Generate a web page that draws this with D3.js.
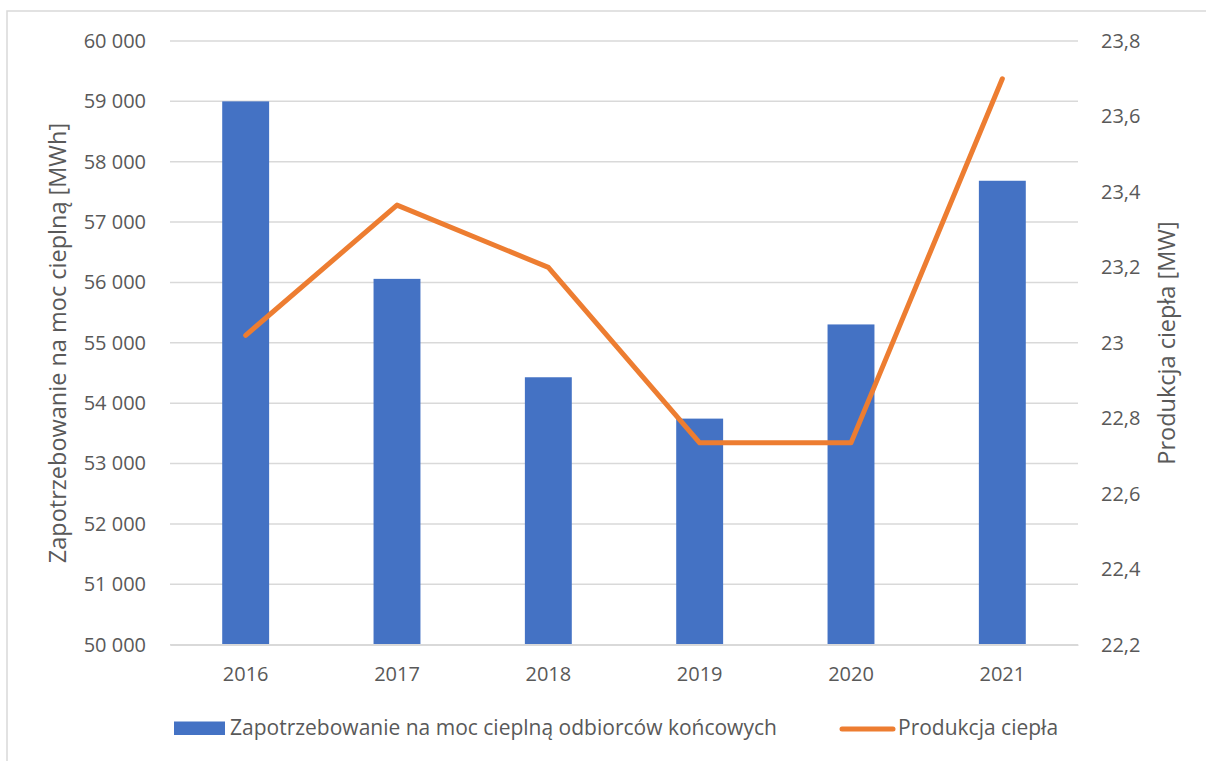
<!DOCTYPE html>
<html>
<head>
<meta charset="utf-8">
<script src="https://cdn.jsdelivr.net/npm/d3@7"></script>
<style>
  html, body { margin: 0; padding: 0; background: #fff; }
  svg { display: block; }
  text { font-family: "Open Sans", sans-serif; fill: #595959; }
</style>
</head>
<body>
<svg id="chart" width="1206" height="761"></svg>
<script>
// ---- data ----
const years = ["2016", "2017", "2018", "2019", "2020", "2021"];
const demandMWh = [59000, 56060, 54430, 53745, 55305, 57685];
const productionMW = [23.02, 23.365, 23.2, 22.735, 22.735, 23.70];
const leftTicks = [50000, 51000, 52000, 53000, 54000, 55000, 56000, 57000, 58000, 59000, 60000];
const rightTicks = [22.2, 22.4, 22.6, 22.8, 23.0, 23.2, 23.4, 23.6, 23.8];
const leftTitle = "Zapotrzebowanie na moc cieplną [MWh]";
const rightTitle = "Produkcja ciepła [MW]";
const legendBar = "Zapotrzebowanie na moc cieplną odbiorców końcowych";
const legendLine = "Produkcja ciepła";

// ---- layout ----
const svg = d3.select("#chart");
const plot = { left: 170, right: 1078, top: 41, bottom: 644.7 };
const barColor = "#4472C4", lineColor = "#ED7D31", gridColor = "#D9D9D9";
const fontSize = 20;

// chart border
svg.append("rect")
  .attr("x", 7).attr("y", 11).attr("width", 1220).attr("height", 770)
  .attr("fill", "#fff").attr("stroke", "#D9D9D9").attr("stroke-width", 1.5);

const x = d3.scaleBand().domain(years).range([plot.left, plot.right]).paddingInner(0.69).paddingOuter(0.345);
const xc = d3.scaleBand().domain(years).range([plot.left, plot.right]);
const yL = d3.scaleLinear().domain([50000, 60000]).range([plot.bottom, plot.top]);
const yR = d3.scaleLinear().domain([22.2, 23.8]).range([plot.bottom, plot.top]);

const fmtL = v => d3.format(",")(v).replace(/,/g, "\u00a0");
const fmtR = v => { const s = d3.format(".1f")(v); return (s.endsWith(".0") ? s.slice(0, -2) : s).replace(".", ","); };

// gridlines
svg.append("g").selectAll("line").data(leftTicks).join("line")
  .attr("x1", plot.left).attr("x2", plot.right)
  .attr("y1", d => yL(d)).attr("y2", d => yL(d))
  .attr("stroke", gridColor).attr("stroke-width", 1.5);

// left axis
const gL = svg.append("g").attr("transform", `translate(${plot.left},0)`)
  .call(d3.axisLeft(yL).tickValues(leftTicks).tickFormat(fmtL).tickSize(0).tickPadding(24));
gL.select(".domain").remove();
gL.selectAll("text").attr("font-size", fontSize).attr("fill", "#595959")
  .style("font-family", "'Open Sans', sans-serif");

// right axis
const gR = svg.append("g").attr("transform", `translate(${plot.right},0)`)
  .call(d3.axisRight(yR).tickValues(rightTicks).tickFormat(fmtR).tickSize(0).tickPadding(23));
gR.select(".domain").remove();
gR.selectAll("text").attr("font-size", fontSize).attr("fill", "#595959")
  .style("font-family", "'Open Sans', sans-serif");

// bottom axis
const gB = svg.append("g").attr("transform", `translate(0,${plot.bottom})`)
  .call(d3.axisBottom(xc).tickSize(0).tickPadding(22));
gB.select(".domain").attr("stroke", gridColor).attr("stroke-width", 1.5);
gB.selectAll("text").attr("font-size", fontSize).attr("fill", "#595959")
  .style("font-family", "'Open Sans', sans-serif");

// bars
svg.append("g").selectAll("rect").data(years).join("rect")
  .attr("x", d => x(d)).attr("width", x.bandwidth())
  .attr("y", (d, i) => yL(demandMWh[i]))
  .attr("height", (d, i) => yL(50000) - yL(demandMWh[i]) - 0.7)
  .attr("fill", barColor);

// line
const line = d3.line().x((d, i) => xc(years[i]) + xc.bandwidth() / 2).y(d => yR(d));
svg.append("path").datum(productionMW)
  .attr("d", line).attr("fill", "none")
  .attr("stroke", lineColor).attr("stroke-width", 5)
  .attr("stroke-linecap", "round").attr("stroke-linejoin", "round");

// axis titles
svg.append("text")
  .attr("transform", `translate(66,343) rotate(-90)`)
  .attr("text-anchor", "middle").attr("font-size", 23.5)
  .text(leftTitle);
svg.append("text")
  .attr("transform", `translate(1175,343) rotate(-90)`)
  .attr("text-anchor", "middle").attr("font-size", 23.5)
  .text(rightTitle);

// legend
const lg = svg.append("g");
lg.append("rect").attr("x", 174).attr("y", 721.5).attr("width", 51).attr("height", 13.5).attr("fill", barColor);
lg.append("text").attr("x", 230).attr("y", 728).attr("dy", "0.35em").attr("font-size", 21).text(legendBar);
lg.append("line").attr("x1", 842).attr("x2", 893).attr("y1", 729).attr("y2", 729)
  .attr("stroke", lineColor).attr("stroke-width", 5).attr("stroke-linecap", "round");
lg.append("text").attr("x", 898).attr("y", 728).attr("dy", "0.35em").attr("font-size", 21).text(legendLine);
</script>
</body>
</html>
